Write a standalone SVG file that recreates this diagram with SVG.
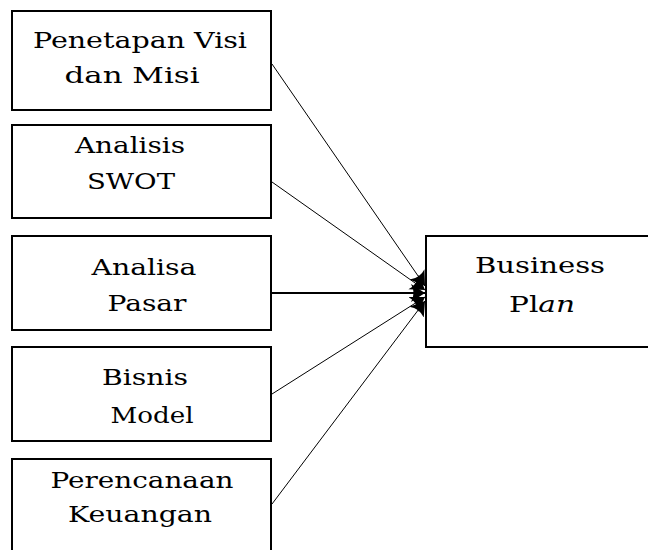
<svg xmlns="http://www.w3.org/2000/svg" width="648" height="550" viewBox="0 0 648 550">
<style>
.box{fill:#fff;stroke:#000;stroke-width:2}
.t{font-family:"DejaVu Serif","Liberation Serif",serif;font-size:22.5px;fill:#000;text-anchor:middle}
.c{stroke:#000;stroke-width:1;fill:none}
.thick{stroke-width:2.2}
</style>
<defs>
<marker id="ah" markerUnits="userSpaceOnUse" markerWidth="16" markerHeight="22" refX="14" refY="10" orient="auto">
<path d="M0,1 L14,10 L0,19 Q5,10 0,1 Z" fill="#000"/>
</marker>
</defs>
<rect width="648" height="550" fill="#fff"/>
<g id="n1"><rect class="box" x="12" y="11" width="259" height="99"/>
<text class="t" x="140" y="48" textLength="214" lengthAdjust="spacingAndGlyphs">Penetapan Visi</text><text class="t" x="132" y="83" textLength="135" lengthAdjust="spacingAndGlyphs">dan Misi</text></g>
<g id="n2"><rect class="box" x="12" y="125" width="259" height="93"/>
<text class="t" x="130" y="153" textLength="110" lengthAdjust="spacingAndGlyphs">Analisis</text><text class="t" x="131" y="189" textLength="88" lengthAdjust="spacingAndGlyphs">SWOT</text></g>
<g id="n3"><rect class="box" x="12" y="236" width="259" height="94"/>
<text class="t" x="144" y="275" textLength="105" lengthAdjust="spacingAndGlyphs">Analisa</text><text class="t" x="147" y="311" textLength="79" lengthAdjust="spacingAndGlyphs">Pasar</text></g>
<g id="n4"><rect class="box" x="12" y="347" width="259" height="94"/>
<text class="t" x="145" y="385" textLength="86" lengthAdjust="spacingAndGlyphs">Bisnis</text><text class="t" x="152" y="423" textLength="83" lengthAdjust="spacingAndGlyphs">Model</text></g>
<g id="n5"><rect class="box" x="12" y="459" width="259" height="100"/>
<text class="t" x="142" y="488" textLength="183" lengthAdjust="spacingAndGlyphs">Perencanaan</text><text class="t" x="140" y="522" textLength="144" lengthAdjust="spacingAndGlyphs">Keuangan</text></g>
<g id="n6"><rect class="box" x="426" y="236" width="240" height="111"/>
<text class="t" x="540" y="273" textLength="130" lengthAdjust="spacingAndGlyphs">Business</text><text class="t" x="542" y="312" textLength="66" lengthAdjust="spacingAndGlyphs">Pl<tspan font-style="italic">an</tspan></text></g>
<g id="connectors">
<line class="c" x1="272" y1="64" x2="425" y2="286" marker-end="url(#ah)"/>
<line class="c" x1="272" y1="182" x2="425" y2="290" marker-end="url(#ah)"/>
<line class="c thick" x1="272" y1="293" x2="425" y2="293" marker-end="url(#ah)"/>
<line class="c" x1="272" y1="394" x2="425" y2="297" marker-end="url(#ah)"/>
<line class="c" x1="272" y1="504" x2="425" y2="301" marker-end="url(#ah)"/>
</g>
</svg>
